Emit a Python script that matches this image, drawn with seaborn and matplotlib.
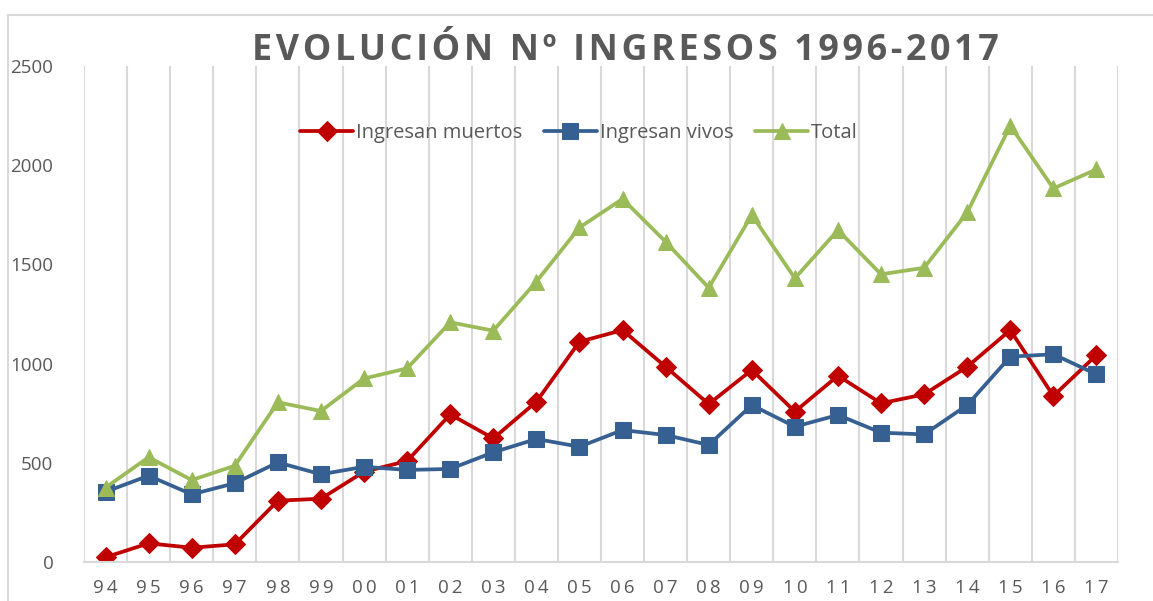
import numpy as np
import pandas as pd
import matplotlib
matplotlib.use("Agg")
import matplotlib.pyplot as plt
from matplotlib.patches import Rectangle
import seaborn as sns

years = ["94", "95", "96", "97", "98", "99", "00", "01", "02", "03", "04", "05",
         "06", "07", "08", "09", "10", "11", "12", "13", "14", "15", "16", "17"]
muertos = [24, 94, 72, 89, 309, 319, 455, 509, 744, 623, 808, 1110,
           1169, 984, 796, 968, 758, 939, 800, 845, 984, 1169, 837, 1043]
vivos = [354, 435, 341, 397, 502, 442, 480, 464, 469, 553, 620, 581,
         665, 640, 590, 791, 682, 741, 652, 643, 791, 1035, 1047, 946]
total = [375, 528, 413, 485, 805, 761, 925, 976, 1208, 1166, 1413, 1686,
         1830, 1614, 1382, 1749, 1430, 1673, 1450, 1483, 1762, 2199, 1883, 1979]
series_names = ["Ingresan muertos", "Ingresan vivos", "Total"]
yticks = [0, 500, 1000, 1500, 2000, 2500]
title = "EVOLUCIÓN Nº INGRESOS 1996-2017"

colors = {"Ingresan muertos": "#C00000", "Ingresan vivos": "#376092", "Total": "#9BBB59"}
markers = {"Ingresan muertos": "D", "Ingresan vivos": "s", "Total": "^"}

rows = []
for name, vals in zip(series_names, [muertos, vivos, total]):
    for i, v in enumerate(vals):
        rows.append({"pos": i, "year": years[i], "value": v, "serie": name})
df = pd.DataFrame(rows)

sns.set_theme(style="white")
fam = ["Open Sans", "DejaVu Sans"]
plt.rcParams["font.family"] = fam
txt = "#595959"

fig = plt.figure(figsize=(11.53, 6.01), dpi=100)
ax = fig.add_axes([84/1153, 1-562/601, (1118-84)/1153, (562-66)/601])

sns.lineplot(data=df, x="pos", y="value", hue="serie", style="serie",
             hue_order=series_names, style_order=series_names,
             palette=colors, markers=markers, dashes=False, linewidth=2.7,
             markersize=10, markeredgecolor="auto", ax=ax)

for line in ax.get_lines():
    m = line.get_marker()
    if m == "D":
        line.set_markersize(10)
    elif m == "^":
        line.set_markersize(12)
    elif m == "s":
        line.set_markersize(11.5)

n = len(years)
ax.set_xlim(-0.5, n - 0.5)
ax.set_ylim(0, 2500)
ax.set_xticks(range(n))
ax.set_xticklabels(["\u2009".join(y) for y in years])
ax.set_xticks(np.arange(-0.5, n, 1.0), minor=True)
ax.set_yticks(yticks)
ax.set_yticklabels([str(t) for t in yticks])
ax.grid(False)
ax.grid(True, which="minor", axis="x", color="#D9D9D9", linewidth=1.5)
ax.tick_params(axis="both", which="both", length=0)
ax.tick_params(axis="y", pad=22, labelsize=13.5, labelcolor=txt)
ax.tick_params(axis="x", pad=12, labelsize=13.5, labelcolor=txt)
for s in ["top", "right", "left"]:
    ax.spines[s].set_visible(False)
ax.spines["bottom"].set_color("#D9D9D9")
ax.spines["bottom"].set_linewidth(1.5)
ax.set_xlabel("")
ax.set_ylabel("")

handles, labels = ax.get_legend_handles_labels()
if ax.get_legend() is not None:
    ax.get_legend().remove()
fig.legend(handles, labels, loc="center", bbox_to_anchor=(579/1153, 1-133/601),
           ncol=3, frameon=False, fontsize=14.5, handlelength=2.6,
           handletextpad=0.15, columnspacing=1.1, labelcolor=txt)

fig.text(625/1153, 1-51/601, "\u200a".join(title), ha="center", va="center",
         fontsize=25.8, fontweight="bold", color=txt)

fig.patches.append(Rectangle((8/1153, -0.2), 1.2, 1.2 - 15/601, transform=fig.transFigure,
                             fill=False, edgecolor="#D9D9D9", linewidth=1.5))

fig.savefig("out.png", dpi=100)
